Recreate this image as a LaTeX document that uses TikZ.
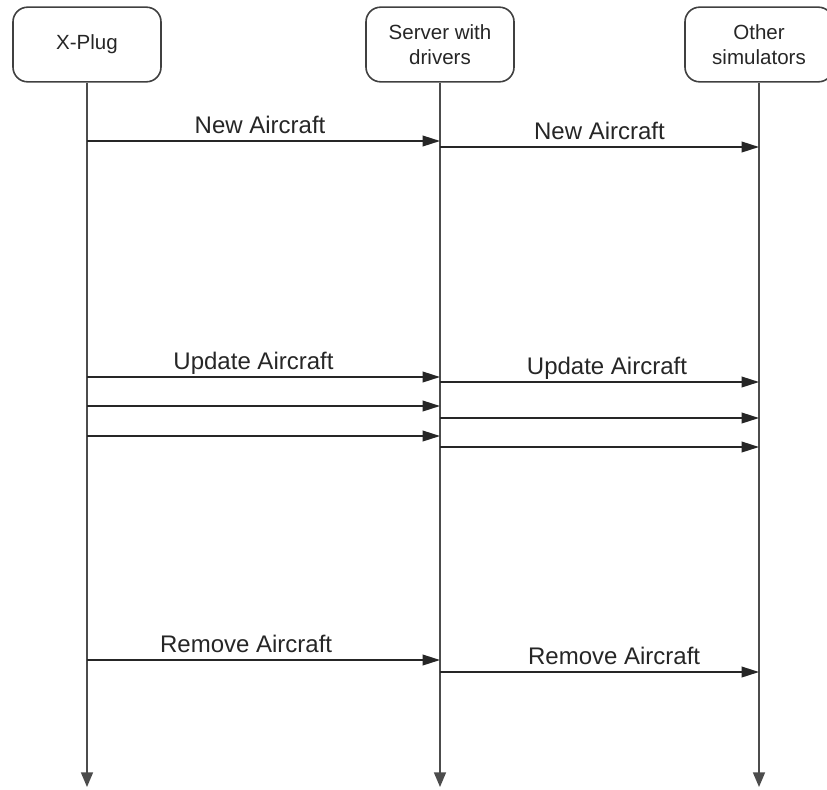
\documentclass[tikz,border=0pt]{standalone}
\usepackage{fontspec}
\setmainfont{Liberation Sans}
\usepackage{tikz}
\usetikzlibrary{arrows.meta}

\begin{document}
\begin{tikzpicture}[x=0.75pt,y=-0.75pt,
  actor/.style={draw=black!75, line width=1.2pt, rounded corners=11pt,
    minimum width=111pt, minimum height=56pt, inner sep=0pt, align=center,
    text=black!85, font=\fontsize{15.4}{18.75}\selectfont},
  life/.style={draw=black!70, line width=1.2pt, -{Triangle[length=11pt,width=9pt]}},
  msg/.style={draw=black!85, line width=1.2pt, -{Triangle[length=13pt,width=8pt]}},
  lbl/.style={text=black!85, font=\fontsize{18}{22}\selectfont, anchor=base, yshift=5.7pt}]
\useasboundingbox (0,0) rectangle (827,789);

% actors
\node[actor] (xp)  at (87,44.5)  {X-Plug};
\node[actor] (srv) at (440,44.5) {Server with\\drivers};
\node[actor] (sim) at (759,44.5) {Other\\simulators};

% lifelines
\foreach \a in {xp,srv,sim}
  \draw[life] (\a.south) -- (\a |- 0,787);

% new aircraft
\draw[msg] (xp |- 0,141) -- node[lbl, xshift=-2.6pt] {New Aircraft} (srv |- 0,141);
\draw[msg] (srv |- 0,147) -- node[lbl] {New Aircraft} (sim |- 0,147);

% update aircraft
\draw[msg] (xp |- 0,377) -- node[lbl, xshift=-7.5pt] {Update Aircraft} (srv |- 0,377);
\draw[msg] (srv |- 0,382) -- node[lbl, xshift=5.6pt] {Update Aircraft} (sim |- 0,382);
\foreach \y in {406,436}
  \draw[msg] (xp |- 0,\y) -- (srv |- 0,\y);
\foreach \y in {418,447}
  \draw[msg] (srv |- 0,\y) -- (sim |- 0,\y);

% remove aircraft
\draw[msg] (xp |- 0,660) -- node[lbl, xshift=-13pt] {Remove Aircraft} (srv |- 0,660);
\draw[msg] (srv |- 0,672) -- node[lbl, xshift=11pt] {Remove Aircraft} (sim |- 0,672);
\end{tikzpicture}
\end{document}
